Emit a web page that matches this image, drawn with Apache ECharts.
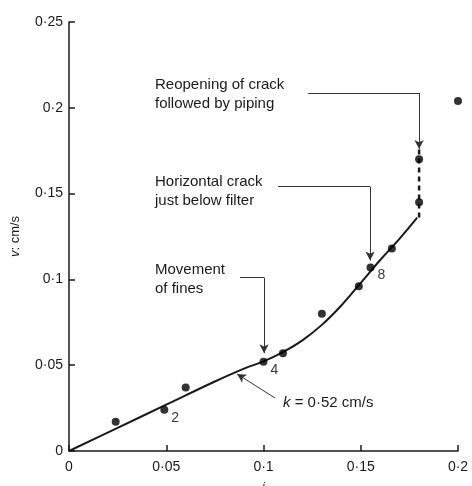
<!DOCTYPE html>
<html><head><meta charset="utf-8">
<script src="https://cdn.jsdelivr.net/npm/echarts@6/dist/echarts.min.js"></script>
<style>html,body{margin:0;padding:0;background:#fff}#c{width:472px;height:486px}</style>
</head><body><div id="c"></div>
<script>
// ---- data ----
const xTickLabels = ['0', '0·05', '0·1', '0·15', '0·2'];
const yTickLabels = ['0', '0·05', '0·1', '0·15', '0·2', '0·25'];
const pointI = [0.024, 0.049, 0.060, 0.100, 0.110, 0.130, 0.149, 0.155, 0.166, 0.180, 0.180, 0.200];
const pointV = [0.017, 0.024, 0.037, 0.052, 0.057, 0.080, 0.096, 0.107, 0.118, 0.145, 0.170, 0.204];
const pointTags = ['', '2', '', '4', '', '', '', '8', '', '', '', ''];
const curveI = [0, 0.025, 0.05, 0.075, 0.09, 0.1, 0.11, 0.12, 0.13, 0.14, 0.15, 0.16, 0.17, 0.179];
const curveV = [0, 0.0135, 0.027, 0.0405, 0.048, 0.0522, 0.0576, 0.0645, 0.0735, 0.0848, 0.098, 0.1113, 0.1238, 0.136];
const crackI = [0.18, 0.18];
const crackV = [0.136, 0.176];
const leaderReopen = [[0.123, 0.2086], [0.18, 0.2086], [0.18, 0.176]];
const leaderHoriz = [[0.1075, 0.154], [0.1548, 0.154], [0.1548, 0.111]];
const leaderMove = [[0.0879, 0.101], [0.1003, 0.101], [0.1003, 0.057]];
const leaderK = [[0.1059, 0.0309], [0.0864, 0.0449]];
const notes = [
  { text: 'Reopening of crack', x: 155, y: 85 },
  { text: 'followed by piping', x: 155, y: 104 },
  { text: 'Horizontal crack', x: 155, y: 182 },
  { text: 'just below filter', x: 155, y: 201 },
  { text: 'Movement', x: 155, y: 270 },
  { text: 'of fines', x: 155, y: 289 }
];

const FONT = '"Liberation Sans", Arial, Helvetica, sans-serif';
const INK = '#1a1a1a';

function leaderSegments(pts) {
  const segs = [];
  for (let k = 0; k < pts.length - 1; k++) {
    const last = k === pts.length - 2;
    segs.push([{ coord: pts[k], symbol: 'none' }, { coord: pts[k + 1], symbol: last ? 'arrow' : 'none' }]);
  }
  return segs;
}

const chart = echarts.init(document.getElementById('c'), null, { renderer: 'canvas' });

const option = {
  animation: false,
  backgroundColor: '#fff',
  grid: { left: 69, right: 14, top: 22, bottom: 35, containLabel: false, outerBoundsMode: 'none' },
  xAxis: {
    type: 'value', min: 0, max: 0.2, interval: 0.05,
    name: 'i', nameLocation: 'middle', nameGap: 30,
    nameTextStyle: { fontFamily: FONT, fontSize: 13, fontStyle: 'italic', color: INK },
    axisLine: { show: true, onZero: false, lineStyle: { color: INK, width: 1.5 } },
    axisTick: { show: true, inside: true, length: 6, lineStyle: { color: INK, width: 1.5 } },
    axisLabel: { fontFamily: FONT, fontSize: 14, color: INK, margin: 9,
      formatter: (v, idx) => xTickLabels[idx] },
    splitLine: { show: false }
  },
  yAxis: {
    type: 'value', min: 0, max: 0.25, interval: 0.05,
    name: '{i|v}: cm/s', nameLocation: 'middle', nameGap: 47, nameRotate: 90,
    nameTextStyle: { fontFamily: FONT, fontSize: 13, color: INK,
      rich: { i: { fontFamily: FONT, fontSize: 13, fontStyle: 'italic', color: INK } } },
    axisLine: { show: true, onZero: false, lineStyle: { color: INK, width: 1.5 } },
    axisTick: { show: true, inside: true, length: 6, lineStyle: { color: INK, width: 1.5 } },
    axisLabel: { fontFamily: FONT, fontSize: 14, color: INK, margin: 6,
      formatter: (v, idx) => yTickLabels[idx] },
    splitLine: { show: false }
  },
  series: [
    {
      name: 'fit', type: 'line', smooth: 0.4, symbol: 'none',
      data: curveI.map((x, k) => [x, curveV[k]]),
      lineStyle: { color: INK, width: 2 }, silent: true, z: 2
    },
    {
      name: 'crack', type: 'line', symbol: 'none',
      data: crackI.map((x, k) => [x, crackV[k]]),
      lineStyle: { color: INK, width: 2.5, type: [5, 4] }, silent: true, z: 2
    },
    {
      name: 'obs', type: 'scatter', symbol: 'circle', symbolSize: 8,
      data: pointI.map((x, k) => ({ value: [x, pointV[k]], tag: pointTags[k] })),
      itemStyle: { color: '#000' },
      label: {
        show: true, position: 'right', distance: 3, offset: [0, 8],
        fontFamily: FONT, fontSize: 14, color: '#000',
        formatter: p => p.data.tag
      },
      markLine: {
        silent: true, animation: false,
        symbol: ['none', 'arrow'], symbolSize: [7, 9],
        label: { show: false },
        lineStyle: { color: '#333', width: 1, type: 'solid' },
        emphasis: { disabled: true },
        data: [].concat(leaderSegments(leaderReopen), leaderSegments(leaderHoriz),
                        leaderSegments(leaderMove), leaderSegments(leaderK))
      },
      z: 3
    }
  ],
  graphic: notes.map(n => ({
    type: 'text', left: n.x, top: n.y - 8,
    style: { text: n.text, fontFamily: FONT, fontSize: 15, fill: INK }
  })).concat([{
    type: 'text', left: 283, top: 395,
    style: {
      text: '{i|k} = 0·52 cm/s',
      rich: { i: { fontFamily: FONT, fontSize: 15, fontStyle: 'italic', fill: INK } },
      fontFamily: FONT, fontSize: 15, fill: INK
    }
  }])
};
chart.setOption(option);
</script>
</body></html>
